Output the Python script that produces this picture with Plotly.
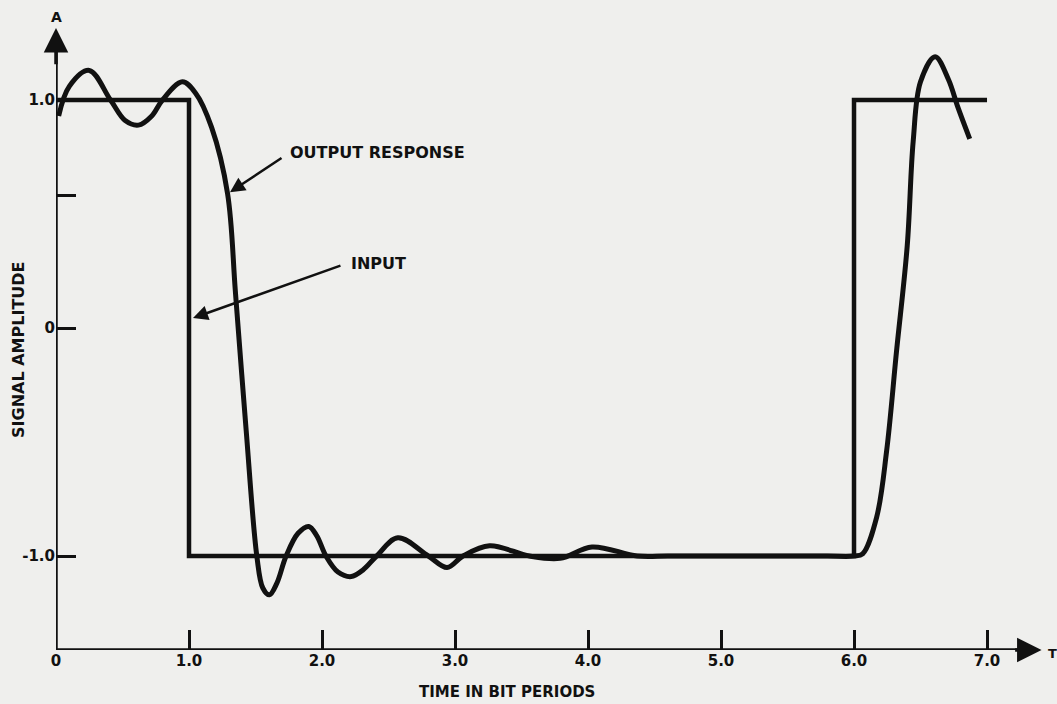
import plotly.graph_objects as go

# ---- data ----
input_t = [0.0, 1.0, 1.0, 6.0, 6.0, 7.0]
input_v = [1.0, 1.0, -1.0, -1.0, 1.0, 1.0]

output_t = [0.02, 0.10, 0.25, 0.41, 0.52, 0.62, 0.72, 0.80, 0.95, 1.05, 1.17, 1.29,
            1.35, 1.43, 1.51, 1.555, 1.605, 1.66, 1.73, 1.82, 1.90, 1.96, 2.03,
            2.12, 2.22, 2.31, 2.41, 2.57, 2.80, 2.94, 3.06, 3.26, 3.56, 3.79, 4.03,
            4.37, 4.60, 4.90, 5.20, 5.50, 5.80, 6.00, 6.065, 6.17, 6.245, 6.32, 6.40,
            6.445, 6.50, 6.61, 6.71, 6.78, 6.87]
output_v = [0.93, 1.06, 1.13, 1.00, 0.91, 0.89, 0.93, 1.00, 1.08, 1.03, 0.88, 0.59,
            0.15, -0.45, -1.00, -1.14, -1.17, -1.12, -1.00, -0.90, -0.87, -0.91, -1.00,
            -1.07, -1.09, -1.06, -1.00, -0.92, -1.00, -1.05, -1.00, -0.955, -1.00, -1.01, -0.96,
            -1.00, -1.00, -1.00, -1.00, -1.00, -1.00, -1.00, -0.99, -0.83, -0.54, -0.10, 0.36,
            0.82, 1.08, 1.19, 1.09, 0.97, 0.83]

x_tick_vals = [0, 1, 2, 3, 4, 5, 6, 7]
x_tick_text = ["0", "1.0", "2.0", "3.0", "4.0", "5.0", "6.0", "7.0"]
y_tick_vals = [1.0, 0.58, 0.0, -1.0]
y_tick_text = ["1.0", "", "0", "-1.0"]

X_RANGE = [0.0, 7.451]
Y_RANGE = [-1.412, 1.395]
INK = "#111111"
BG = "#efefed"
FONT = "DejaVu Sans"

fig = go.Figure()
fig.add_trace(go.Scatter(x=input_t, y=input_v, mode="lines",
                         line=dict(color=INK, width=4.5), hoverinfo="skip"))
fig.add_trace(go.Scatter(x=output_t, y=output_v, mode="lines",
                         line=dict(color=INK, width=5, shape="spline", smoothing=1.0),
                         hoverinfo="skip"))

# axis lines
fig.add_shape(type="line", x0=0, x1=7.33, y0=Y_RANGE[0], y1=Y_RANGE[0],
              line=dict(color=INK, width=3.5))
fig.add_shape(type="line", x0=0, x1=0, y0=Y_RANGE[0], y1=1.22,
              line=dict(color=INK, width=3.5))

annotations = [
    # axis arrowheads
    dict(x=7.41, y=Y_RANGE[0], ax=7.2, ay=Y_RANGE[0], xref="x", yref="y",
         axref="x", ayref="y", text="", showarrow=True, arrowhead=2,
         arrowsize=1.4, arrowwidth=3.5, arrowcolor=INK),
    dict(x=0, y=1.316, ax=0, ay=1.15, xref="x", yref="y", axref="x", ayref="y",
         text="", showarrow=True, arrowhead=2, arrowsize=1.4, arrowwidth=3.5,
         arrowcolor=INK),
    # axis letters
    dict(x=0, y=1.0, xref="x", yref="paper", yshift=-7, text="A", showarrow=False,
         yanchor="middle", font=dict(family=FONT, size=14, color=INK, weight=700)),
    dict(x=1.0, y=0, xref="paper", yref="paper", xshift=-1, yshift=-3, text="T", showarrow=False,
         xanchor="left", yanchor="middle", font=dict(family=FONT, size=13, color=INK, weight=700)),
    # axis titles
    dict(x=0, y=0, xref="paper", yref="paper", xshift=361, yshift=-42, text="TIME IN BIT PERIODS",
         showarrow=False, xanchor="left", yanchor="middle",
         font=dict(family=FONT, size=15, color=INK, weight=700)),
    dict(x=0, y=-0.096, xref="paper", yref="y", xshift=-37, text="SIGNAL AMPLITUDE",
         showarrow=False, textangle=-90, xanchor="center", yanchor="middle",
         font=dict(family=FONT, size=16, color=INK, weight=700)),
    # labels with pointer arrows
    dict(x=1.744, y=0.768, xref="x", yref="y", text="OUTPUT RESPONSE", showarrow=False,
         xanchor="left", yanchor="middle",
         font=dict(family=FONT, size=16, color=INK, weight=700)),
    dict(x=1.308, y=0.596, ax=1.707, ay=0.75, xref="x", yref="y", axref="x", ayref="y",
         text="", showarrow=True, arrowhead=2, arrowsize=1.2, arrowwidth=2.5, arrowcolor=INK),
    dict(x=2.203, y=0.285, xref="x", yref="y", text="INPUT", showarrow=False,
         xanchor="left", yanchor="middle",
         font=dict(family=FONT, size=16, color=INK, weight=700)),
    dict(x=1.03, y=0.044, ax=2.15, ay=0.276, xref="x", yref="y", axref="x", ayref="y",
         text="", showarrow=True, arrowhead=2, arrowsize=1.2, arrowwidth=2.5, arrowcolor=INK),
]

fig.update_layout(
    width=1057, height=704,
    margin=dict(l=56, r=10, t=10, b=54),
    paper_bgcolor=BG, plot_bgcolor=BG,
    showlegend=False,
    annotations=annotations,
    xaxis=dict(range=X_RANGE, showgrid=False, zeroline=False, showline=False,
               tickmode="array", tickvals=x_tick_vals, ticktext=x_tick_text,
               ticks="inside", ticklen=20, tickwidth=2.5, tickcolor=INK,
               tickfont=dict(family=FONT, size=15, color=INK, weight=700)),
    yaxis=dict(range=Y_RANGE, showgrid=False, zeroline=False, showline=False,
               tickmode="array", tickvals=y_tick_vals, ticktext=y_tick_text,
               ticks="inside", ticklen=20, tickwidth=2.5, tickcolor=INK,
               tickfont=dict(family=FONT, size=15, color=INK, weight=700)),
)

fig.write_html("out.html", config={"displayModeBar": False},
               post_script="document.body.style.margin='0px';document.body.style.overflow='hidden';")
